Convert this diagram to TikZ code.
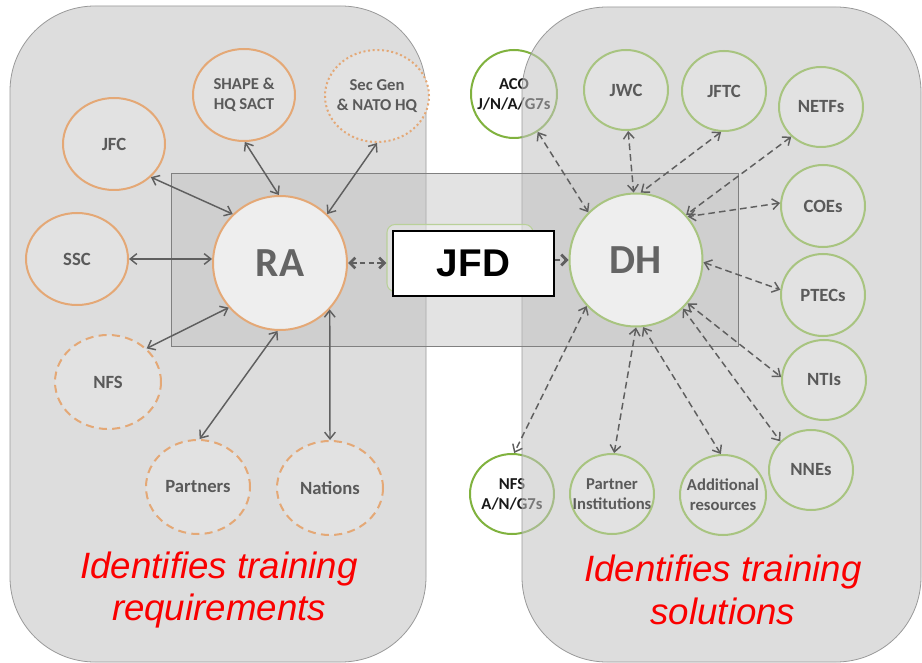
\documentclass[tikz,border=0pt]{standalone}
\usepackage{fontspec}
\setmainfont{Carlito}
\newfontfamily\arialf{Liberation Sans}
\usetikzlibrary{shapes.geometric,arrows.meta}
\newlength\pxl
\setlength\pxl{0.75pt}
\definecolor{orangec}{RGB}{228,168,118}
\definecolor{greenc}{RGB}{168,196,128}
\definecolor{greenout}{RGB}{128,178,62}
\definecolor{labc}{RGB}{90,90,90}
\definecolor{bigc}{RGB}{100,100,100}
\definecolor{panelc}{RGB}{196,196,196}
\definecolor{rectc}{RGB}{190,190,190}
\definecolor{circfill}{RGB}{226,226,226}
\definecolor{arrc}{RGB}{95,95,95}
\definecolor{redc}{RGB}{250,0,0}
\tikzset{
  circ/.style={ellipse, draw, line width=1.5pt, fill=circfill, inner sep=0pt,
    font=\fontsize{14}{16}\selectfont\bfseries, text=labc, align=center},
  orng/.style={circ, draw=orangec},
  grn/.style={circ, draw=greenc},
  lab/.style={font=\fontsize{12.5}{15}\selectfont\bfseries, text=labc, align=center, inner sep=0pt},
  sz/.style 2 args={minimum width=#1\pxl, minimum height=#2\pxl},
  panel/.style={draw=gray!80, line width=0.6pt, fill=panelc, fill opacity=0.56, rounded corners=85\pxl},
  solidarr/.style={draw=arrc, line width=1.1pt, {Straight Barb[length=5pt,width=8pt]}-{Straight Barb[length=5pt,width=8pt]}},
  dasharr/.style={draw=arrc, line width=1.1pt, dash pattern=on 5pt off 3pt, {Straight Barb[length=5pt,width=8pt]}-{Straight Barb[length=5pt,width=8pt]}},
  redtxt/.style={text=redc, font=\arialf\itshape\fontsize{27.5}{32}\selectfont, align=center}
}
\begin{document}
\begin{tikzpicture}[x=0.75pt, y=-0.75pt]
\useasboundingbox (0,0) rectangle (922,663);
\fill[white] (0,0) rectangle (922,663);
% nodes partly outside the right panel (under its translucent layer)
\node[circ, draw=greenout, fill=white, sz={86}{88}, label={[lab, text=black!90]center:ACO\\J/N/A/G7s}] (ACO) at (514,94) {};
\node[circ, draw=greenout, fill=white, sz={84}{80}, label={[lab, text=black!90]center:NFS\\A/N/G7s}] (NFSR) at (512,494) {};
% panels
\path[panel] (10,6) rectangle (426,662);
\path[panel] (522,7) rectangle (921,662);
% middle band
\path[draw=gray, line width=0.7pt, fill=rectc, fill opacity=0.42] (171,173) rectangle (738,346);
% green box behind JFD
\node[draw=greenc!80, line width=0.8pt, fill=white, fill opacity=0.35, rounded corners=8\pxl, minimum width=146\pxl, minimum height=67\pxl, inner sep=0pt] (GB) at (460,258) {};
% left circles
\node[orng, sz={102}{92}, label={[lab]center:SHAPE \&\\HQ SACT}] (SHAPE) at (244,95) {};
\node[orng, dotted, sz={104}{92}, label={[lab]center:Sec Gen\\\& NATO HQ}] (SecGen) at (377,96) {};
\node[orng, sz={102}{92}] (JFC) at (114,144) {JFC};
\node[orng, sz={102}{92}] (SSC) at (77,259) {SSC};
\node[orng, circle, minimum size=134\pxl, fill=circfill!60!white, text=bigc, font=\fontsize{31}{34}\selectfont\bfseries] (RA) at (280,263) {RA};
\node[orng, dash pattern=on 6pt off 4pt, sz={106}{94}] (NFSL) at (108,382) {NFS};
\node[orng, dash pattern=on 6pt off 4pt, sz={104}{94}] (Partners) at (198,487) {Partners};
\node[orng, dash pattern=on 6pt off 4pt, sz={106}{94}] (Nations) at (330,488) {\raisebox{-3pt}{Nations}};
% right circles
\node[grn, sz={84}{80}] (JWC) at (626,90) {JWC};
\node[grn, sz={84}{80}] (JFTC) at (724,91) {JFTC};
\node[grn, sz={84}{80}] (NETFs) at (821,107) {NETFs};
\node[grn, sz={84}{82}] (COEs) at (823,206) {COEs};
\node[grn, sz={84}{82}] (PTECs) at (823,295) {PTECs};
\node[grn, circle, minimum size=133\pxl, fill=circfill!60!white, text=bigc, font=\fontsize{31}{34}\selectfont\bfseries] (DH) at (636,260) {DH};
\node[grn, sz={84}{80}] (NTIs) at (824,380) {NTIs};
\node[grn, sz={84}{80}] (NNEs) at (811,470) {NNEs};
\node[grn, sz={84}{80}, label={[lab]center:Partner\\Institutions}] (PI) at (612,494) {};
\node[grn, sz={86}{80}, label={[lab]center:Additional\\resources}] (ADD) at (723,495) {};
% left connectors
\draw[solidarr] (JFC.-42) -- (RA.134);
\draw[solidarr] (SHAPE.-89) -- (RA.91);
\draw[solidarr] (SecGen.-90) -- (RA.46);
\draw[solidarr] (SSC.east) -- (SSC.east -| RA.west);
\draw[solidarr] (RA.221) -- (NFSL.41);
\draw[solidarr] (RA.-92) -- (Partners.88);
\draw[solidarr] (RA.-43) -- (Nations.90);
\draw[draw=arrc, line width=2pt, dash pattern=on 4pt off 2.5pt, {Straight Barb[length=4pt,width=8pt]}-{Straight Barb[length=4pt,width=8pt]}] (RA.east) -- (RA.east -| GB.west);
% right connectors
\draw[dasharr] (ACO.-58) -- (DH.135);
\draw[dasharr] (JWC.-87) -- (DH.92);
\draw[dasharr] (JFTC.-94) -- (DH.86);
\draw[dasharr] (NETFs.225) -- (DH.42);
\draw[dasharr] (COEs.176) -- (DH.40);
\draw[dasharr] (DH.-2) -- (PTECs.173);
\draw[dasharr] (DH.-40) -- (NTIs.176);
\draw[dasharr] (DH.-46) -- (NNEs.137);
\draw[dasharr] (DH.223) -- (NFSR.87);
\draw[dasharr] (DH.-90) -- (PI.87);
\draw[dasharr] (DH.-84) -- (ADD.93);
% JFD box
\node[draw=black, line width=1.5pt, fill=white, minimum width=161\pxl, minimum height=65\pxl, inner sep=0pt, font=\arialf\bfseries\fontsize{29}{32}\selectfont] (JFD) at (473.5,263.5) {JFD};
\draw[draw=arrc, line width=2pt, dash pattern=on 4pt off 2.5pt, -{Straight Barb[length=4pt,width=8pt]}] (JFD.east |- DH.west) -- (DH.west);
% captions
\node[redtxt] (capL) at (219,590) {Identifies training\\requirements};
\node[redtxt] (capR) at (723,590) {Identifies training\\solutions};
\end{tikzpicture}
\end{document}
